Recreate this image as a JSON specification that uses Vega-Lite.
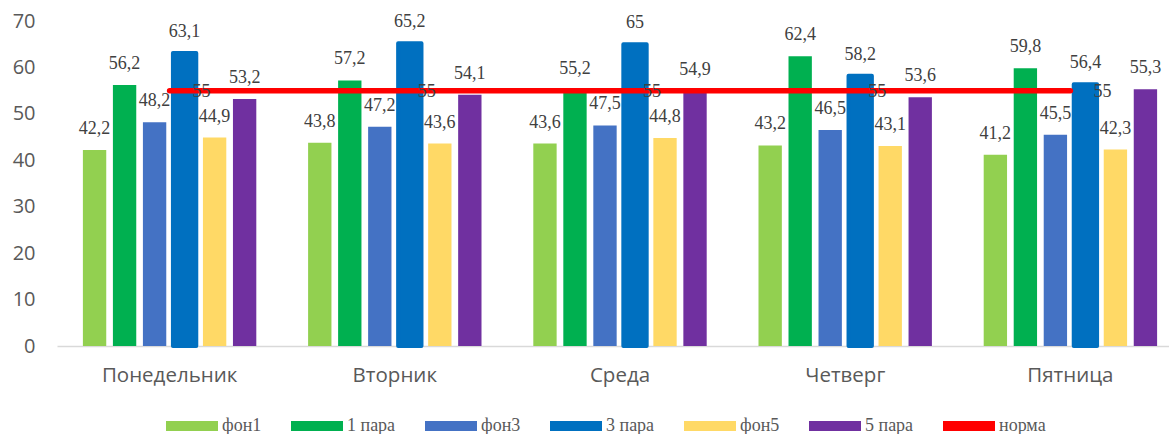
{
  "$schema": "https://vega.github.io/schema/vega-lite/v6.json",
  "width": 1112,
  "height": 325,
  "autosize": "none",
  "padding": {"left": 57, "top": 21, "right": 0, "bottom": 88},
  "config": {
    "view": {"stroke": null},
    "locale": {"number": {"decimal": ",", "thousands": " ", "grouping": [3], "currency": ["", ""]}}
  },
  "datasets": {
    "bars": [
      {"day": "Понедельник", "series": "фон1", "value": 42.2},
      {"day": "Понедельник", "series": "1 пара", "value": 56.2},
      {"day": "Понедельник", "series": "фон3", "value": 48.2},
      {"day": "Понедельник", "series": "3 пара", "value": 63.1},
      {"day": "Понедельник", "series": "фон5", "value": 44.9},
      {"day": "Понедельник", "series": "5 пара", "value": 53.2},
      {"day": "Вторник", "series": "фон1", "value": 43.8},
      {"day": "Вторник", "series": "1 пара", "value": 57.2},
      {"day": "Вторник", "series": "фон3", "value": 47.2},
      {"day": "Вторник", "series": "3 пара", "value": 65.2},
      {"day": "Вторник", "series": "фон5", "value": 43.6},
      {"day": "Вторник", "series": "5 пара", "value": 54.1},
      {"day": "Среда", "series": "фон1", "value": 43.6},
      {"day": "Среда", "series": "1 пара", "value": 55.2},
      {"day": "Среда", "series": "фон3", "value": 47.5},
      {"day": "Среда", "series": "3 пара", "value": 65},
      {"day": "Среда", "series": "фон5", "value": 44.8},
      {"day": "Среда", "series": "5 пара", "value": 54.9},
      {"day": "Четверг", "series": "фон1", "value": 43.2},
      {"day": "Четверг", "series": "1 пара", "value": 62.4},
      {"day": "Четверг", "series": "фон3", "value": 46.5},
      {"day": "Четверг", "series": "3 пара", "value": 58.2},
      {"day": "Четверг", "series": "фон5", "value": 43.1},
      {"day": "Четверг", "series": "5 пара", "value": 53.6},
      {"day": "Пятница", "series": "фон1", "value": 41.2},
      {"day": "Пятница", "series": "1 пара", "value": 59.8},
      {"day": "Пятница", "series": "фон3", "value": 45.5},
      {"day": "Пятница", "series": "3 пара", "value": 56.4},
      {"day": "Пятница", "series": "фон5", "value": 42.3},
      {"day": "Пятница", "series": "5 пара", "value": 55.3}
    ],
    "norm": [
      {"day": "Понедельник", "series": "норма", "value": 55},
      {"day": "Вторник", "series": "норма", "value": 55},
      {"day": "Среда", "series": "норма", "value": 55},
      {"day": "Четверг", "series": "норма", "value": 55},
      {"day": "Пятница", "series": "норма", "value": 55}
    ]
  },
  "encoding": {
    "x": {
      "field": "day",
      "type": "nominal",
      "sort": ["Понедельник", "Вторник", "Среда", "Четверг", "Пятница"],
      "scale": {"range": [0, 1126], "paddingInner": 0.23, "paddingOuter": 0.115},
      "axis": {
        "title": null,
        "ticks": false,
        "labelAngle": 0,
        "domainColor": "#D9D9D9",
        "domainWidth": 1.5,
        "labelFont": "Open Sans",
        "labelFontSize": 20.5,
        "labelColor": "#595959",
        "labelPadding": 19
      }
    },
    "y": {
      "field": "value",
      "type": "quantitative",
      "scale": {"domain": [0, 70], "nice": false},
      "axis": {
        "title": null,
        "values": [0, 10, 20, 30, 40, 50, 60, 70],
        "ticks": false,
        "domain": false,
        "grid": false,
        "labelFont": "Open Sans",
        "labelFontSize": 20,
        "labelColor": "#595959",
        "labelPadding": 22
      }
    }
  },
  "layer": [
    {
      "data": {"name": "bars"},
      "mark": {"type": "bar", "strokeJoin": "round"},
      "encoding": {
        "xOffset": {
          "field": "series",
          "sort": ["фон1", "1 пара", "фон3", "3 пара", "фон5", "5 пара"],
          "scale": {"paddingInner": 0.222, "paddingOuter": 0}
        },
        "color": {
          "field": "series",
          "type": "nominal",
          "scale": {
            "domain": ["фон1", "1 пара", "фон3", "3 пара", "фон5", "5 пара", "норма"],
            "range": ["#92D050", "#00B050", "#4472C4", "#0070C0", "#FFD966", "#7030A0", "#FF0000"]
          },
          "legend": {
            "title": null,
            "orient": "none",
            "legendX": 109,
            "legendY": 379,
            "direction": "horizontal",
            "columns": 7,
            "columnPadding": 29,
            "symbolType": "M-1,-0.19H1V0.19H-1Z",
            "symbolSize": 2704,
            "symbolStrokeWidth": 0,
            "labelOffset": 4,
            "labelFont": "Liberation Serif",
            "labelFontSize": 18,
            "labelColor": "#595959"
          }
        },
        "stroke": {"condition": {"test": "datum.series === '3 пара'", "value": "#0070C0"}, "value": "#FFFFFF"},
        "strokeWidth": {"condition": {"test": "datum.series === '3 пара'", "value": 4}, "value": 0}
      }
    },
    {
      "data": {"name": "bars"},
      "mark": {"type": "text", "baseline": "alphabetic", "dy": -16, "font": "Liberation Serif", "fontSize": 18, "color": "#404040"},
      "encoding": {
        "xOffset": {
          "field": "series",
          "sort": ["фон1", "1 пара", "фон3", "3 пара", "фон5", "5 пара"]
        },
        "text": {"field": "value", "type": "quantitative", "format": ".3~g"}
      }
    },
    {
      "data": {"name": "norm"},
      "mark": {"type": "line", "color": "#FF0000", "strokeWidth": 5.5, "strokeCap": "round"},
      "encoding": {}
    },
    {
      "data": {"name": "norm"},
      "mark": {"type": "text", "align": "left", "baseline": "middle", "dx": 23, "dy": 1, "font": "Liberation Serif", "fontSize": 18, "color": "#404040"},
      "encoding": {
        "text": {"field": "value", "type": "quantitative", "format": ".3~g"}
      }
    }
  ]
}
